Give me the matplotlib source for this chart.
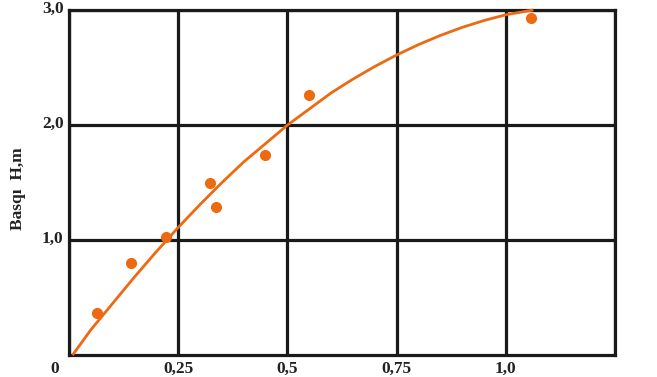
import matplotlib
matplotlib.use('Agg')
import matplotlib.pyplot as plt
import matplotlib.transforms as mtransforms

# measured points
point_x = [0.064, 0.142, 0.222, 0.323, 0.337, 0.449, 0.549, 1.058]
point_y = [0.37, 0.80, 1.03, 1.50, 1.29, 1.74, 2.26, 2.93]

# fitted curve
curve_x = [0.01, 0.05, 0.1, 0.15, 0.2, 0.25, 0.3, 0.35, 0.4, 0.45, 0.5, 0.55,
           0.6, 0.65, 0.7, 0.75, 0.8, 0.85, 0.9, 0.95, 1.0, 1.03, 1.06]
curve_y = [0.01, 0.22, 0.45, 0.68, 0.90, 1.11, 1.31, 1.50, 1.68, 1.84, 2.00, 2.14,
           2.28, 2.40, 2.51, 2.61, 2.70, 2.78, 2.85, 2.91, 2.96, 2.98, 3.0]

x_ticks = [0, 0.25, 0.5, 0.75, 1.0, 1.25]
x_labels = ['0', '0,25', '0,5', '0,75', '1,0', '']
y_ticks = [1.0, 2.0, 3.0]
y_labels = ['1,0', '2,0', '3,0']

orange = '#ec6a12'
plt.rcParams['font.family'] = ['Liberation Serif', 'DejaVu Serif']

fig = plt.figure(figsize=(6.57, 3.77), dpi=100)
ax = fig.add_axes([0.105, 0.058, 0.831, 0.915])

ax.plot(curve_x, curve_y, color=orange, lw=2.0, zorder=3, clip_on=False,
        solid_joinstyle='round')
ax.plot(point_x, point_y, 'o', color=orange, ms=7, zorder=4, clip_on=False)

ax.set_xlim(0, 1.25)
ax.set_ylim(0, 3.0)
ax.set_xticks(x_ticks)
ax.set_xticklabels(x_labels, fontsize=12.5, fontweight='bold', color='#222222')
ax.set_yticks(y_ticks)
ax.set_yticklabels(y_labels, fontsize=12.5, fontweight='bold', color='#222222')
ax.tick_params(length=0, pad=4)

# "0" sits a bit left of the corner
first = ax.get_xticklabels()[0]
first.set_transform(first.get_transform() +
                    mtransforms.ScaledTranslation(-14 / 100, 0, fig.dpi_scale_trans))
for lab in ax.get_yticklabels():
    lab.set_transform(lab.get_transform() +
                      mtransforms.ScaledTranslation(0, 3 / 100, fig.dpi_scale_trans))

ax.grid(True, color='#1a1a1a', lw=2.3, zorder=1)
ax.set_axisbelow(True)
for s in ax.spines.values():
    s.set_color('#1a1a1a')
    s.set_linewidth(2.3)

fig.text(0.028, 0.50, 'Basqı  H,m', rotation=90, fontsize=12.5, fontweight='bold',
         ha='center', va='center', color='#222222')

fig.savefig('out.png', dpi=100)
